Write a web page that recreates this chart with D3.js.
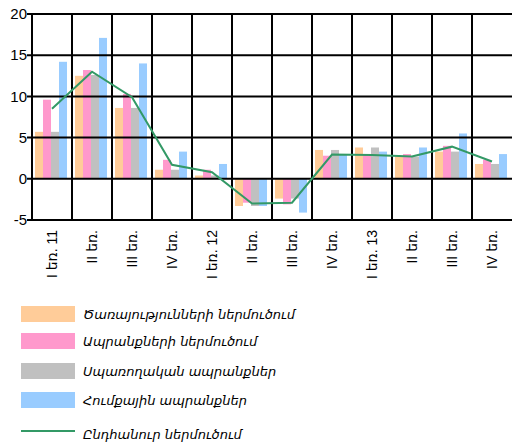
<!DOCTYPE html>
<html>
<head>
    <style>
        body { margin: 0; background: #fff; }
        text { font-family: "Liberation Sans", Arial, "DejaVu Sans", sans-serif; }
        .legend text { font-family: "DejaVu Sans", sans-serif; font-style: italic; font-size: 13px; }
    </style>
    <script src="https://d3js.org/d3.v7.min.js"></script>
</head>
<body>
<svg width="512" height="443"></svg>
<script>
    // quarters
    let categories = ["I եռ. 11", "II եռ.", "III եռ.", "IV եռ.", "I եռ. 12", "II եռ.", "III եռ.", "IV եռ.", "I եռ. 13", "II եռ.", "III եռ.", "IV եռ."];

    let services = [5.7, 12.5, 8.6, 1.1, 0.4, -3.3, -2.4, 3.5, 3.8, 2.7, 3.3, 1.8];
    let goods = [9.6, 13.2, 10.3, 2.3, 1.1, -2.9, -3.1, 2.8, 2.9, 3.0, 4.0, 2.3];
    let consumer = [5.7, 12.6, 8.6, 1.1, 0.4, -3.3, -2.4, 3.5, 3.8, 2.7, 3.3, 1.8];
    let raw = [14.2, 17.1, 14.0, 3.3, 1.8, -3.3, -4.1, 2.9, 3.3, 3.8, 5.5, 3.0];
    let total = [8.5, 13.0, 9.9, 1.7, 0.8, -3.0, -2.9, 2.95, 2.9, 2.7, 3.9, 2.1];

    let yTicks = [-5, 0, 5, 10, 15, 20];

    let seriesNames = ["Ծառայությունների ներմուծում", "Ապրանքների ներմուծում", "Սպառողական ապրանքներ", "Հումքային ապրանքներ"];
    let lineName = "Ընդհանուր ներմուծում";
    let colors = ["#ffcc99", "#ff99cc", "#c0c0c0", "#99ccff"];

    let svg = d3.select("svg");
    let mLeft = 32, mRight = 512, mTop = 14, mBottom = 220;

    let x = d3.scaleBand().domain(categories.map((c, i) => i)).range([mLeft, mRight]);
    let y = d3.scaleLinear().domain([-5, 20]).range([mBottom, mTop]);
    let xs = d3.scaleBand().domain([0, 1, 2, 3]).range([3, 35]);

    let series = [services, goods, consumer, raw];

    // bars
    series.forEach(function(s, k) {
        svg.append("g").selectAll("rect")
            .data(s)
            .enter()
            .append("rect")
            .attr("x", (d, i) => x(i) + xs(k))
            .attr("width", xs.bandwidth())
            .attr("y", d => y(Math.max(0, d)))
            .attr("height", d => Math.abs(y(d) - y(0)))
            .attr("fill", colors[k]);
    });

    // grid
    let grid = svg.append("g").attr("stroke", "#000").attr("stroke-width", 2);
    yTicks.forEach(function(t) {
        grid.append("line").attr("x1", mLeft - 5).attr("x2", mRight).attr("y1", y(t)).attr("y2", y(t));
    });
    categories.forEach(function(c, i) {
        grid.append("line").attr("x1", x(i)).attr("x2", x(i)).attr("y1", mTop).attr("y2", mBottom);
    });

    // y labels
    svg.append("g").selectAll("text")
        .data(yTicks)
        .enter()
        .append("text")
        .attr("x", mLeft - 5)
        .attr("y", d => y(d))
        .attr("dy", "0.35em")
        .attr("text-anchor", "end")
        .attr("font-size", 15)
        .text(d => d);

    // x labels
    svg.append("g").selectAll("text")
        .data(categories)
        .enter()
        .append("text")
        .attr("transform", (d, i) => "translate(" + (x(i) + x.bandwidth() / 2 + 5) + "," + 230 + ") rotate(-90)")
        .attr("text-anchor", "end")
        .attr("font-size", 14)
        .text(d => d);

    // total line
    let line = d3.line()
        .x((d, i) => x(i) + x.bandwidth() / 2)
        .y(d => y(d));

    svg.append("path")
        .datum(total)
        .attr("d", line)
        .attr("fill", "none")
        .attr("stroke", "#339966")
        .attr("stroke-width", 2);

    // legend
    let legend = svg.append("g").attr("class", "legend");
    let rows = [306, 333, 363, 392];
    seriesNames.forEach(function(n, k) {
        legend.append("rect").attr("x", 21).attr("y", rows[k]).attr("width", 54).attr("height", 16).attr("fill", colors[k]);
        legend.append("text").attr("x", 83).attr("y", rows[k] + 8).attr("dy", "0.35em").text(n);
    });
    legend.append("line").attr("x1", 21).attr("x2", 75).attr("y1", 431).attr("y2", 431)
        .attr("stroke", "#339966").attr("stroke-width", 2);
    legend.append("text").attr("x", 83).attr("y", 434).attr("dy", "0.35em").text(lineName);
</script>
</body>
</html>
